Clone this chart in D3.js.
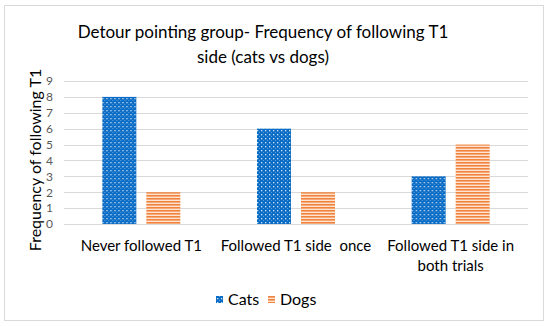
<!DOCTYPE html>
<html>
<head>
<meta charset="utf-8">
<script src="https://cdn.jsdelivr.net/npm/d3@7"></script>
<style>
  body { margin: 0; background: #fff; }
  svg { display: block; font-family: Lato, "Open Sans", sans-serif; }
</style>
</head>
<body>
<svg id="chart" width="550" height="327"></svg>
<script>
// chart data
const categories = ["Never followed T1", "Followed T1 side  once", "Followed T1 side in both trials"];
const seriesNames = ["Cats", "Dogs"];
const cats = [8, 6, 3];
const dogs = [2, 2, 5];
const yTicks = [0, 1, 2, 3, 4, 5, 6, 7, 8, 9];
const titleLines = ["Detour pointing group- Frequency of following T1", "side (cats vs dogs)"];

function drawChart(){
    const svg = d3.select("#chart");
    const W = 550, H = 327;
    const margin = { top: 81, right: 22, bottom: 103, left: 64 };
    const width = W - margin.left - margin.right,
          height = H - margin.top - margin.bottom;

    // patterns
    const defs = svg.append("defs");
    const pc = defs.append("pattern").attr("id", "patCats")
        .attr("patternUnits", "userSpaceOnUse").attr("width", 4).attr("height", 4);
    pc.append("rect").attr("width", 4).attr("height", 4).attr("fill", "#0a6cc4");
    pc.append("rect").attr("x", 1).attr("y", 1).attr("width", 1.3).attr("height", 1.3).attr("fill", "#cfe3f6");
    pc.append("rect").attr("x", 3).attr("y", 3).attr("width", 1).attr("height", 1).attr("fill", "#5aa0de");

    const pd = defs.append("pattern").attr("id", "patDogs")
        .attr("patternUnits", "userSpaceOnUse").attr("width", 4).attr("height", 3);
    pd.append("rect").attr("width", 4).attr("height", 3).attr("fill", "#fde3d0");
    pd.append("rect").attr("y", 0).attr("width", 4).attr("height", 1.6).attr("fill", "#f0843e");

    // frame
    svg.append("rect").attr("x", 4.5).attr("y", 5.5).attr("width", 539).attr("height", 315)
        .attr("fill", "#fff").attr("stroke", "#d9d9d9").attr("stroke-width", 1);

    // title
    svg.append("text").attr("x", 263).attr("text-anchor", "middle")
        .attr("fill", "#000").style("font-size", "17px")
        .selectAll("tspan").data(titleLines).enter().append("tspan")
        .attr("x", 263).attr("y", (d, i) => 38 + i * 25).text(d => d);

    const g = svg.append("g").attr("transform", `translate(${margin.left},${margin.top})`);

    const x0 = d3.scaleBand().domain(categories).range([0, width]).paddingInner(0).paddingOuter(0);
    const y = d3.scaleLinear().domain([0, 9]).range([height, 0]);

    // grid
    g.append("g").selectAll("line").data(yTicks).enter().append("line")
        .attr("x1", 0).attr("x2", width)
        .attr("y1", d => Math.round(y(d)) + 0.5).attr("y2", d => Math.round(y(d)) + 0.5)
        .attr("stroke", "#d9d9d9").attr("stroke-width", 1);

    // y axis labels
    const yAxis = g.append("g").call(d3.axisLeft(y).tickValues(yTicks).tickSize(0).tickPadding(11));
    yAxis.select(".domain").remove();
    yAxis.selectAll("text").attr("fill", "#595959").style("font-size", "12px").style("font-family", "Lato, sans-serif");

    // bars
    const barW = 34, gap = 10;
    const data = categories.map((c, i) => ({ cat: c, vals: [cats[i], dogs[i]] }));
    const groups = g.selectAll(".grp").data(data).enter().append("g")
        .attr("transform", d => `translate(${x0(d.cat) + x0.bandwidth() / 2},0)`);
    groups.selectAll("rect").data(d => d.vals).enter().append("rect")
        .attr("x", (d, i) => i == 0 ? -(barW + gap / 2) : gap / 2)
        .attr("y", d => y(d))
        .attr("width", barW)
        .attr("height", d => height - y(d))
        .attr("fill", (d, i) => i == 0 ? "url(#patCats)" : "url(#patDogs)");

    // x labels
    const labelLines = [["Never followed T1"], ["Followed T1 side  once"], ["Followed T1 side in", "both trials"]];
    groups.append("text").attr("text-anchor", "middle").attr("fill", "#000")
        .style("font-size", "15px").style("white-space", "pre")
        .selectAll("tspan").data((d, i) => labelLines[i]).enter().append("tspan")
        .attr("x", 0).attr("y", (d, i) => height + 27 + i * 20).text(d => d);

    // y title
    svg.append("text").attr("transform", "translate(41,160) rotate(-90)")
        .attr("text-anchor", "middle").attr("fill", "#000").style("font-size", "16px")
        .text("Frequency of following T1");

    // legend
    const legend = svg.append("g").attr("transform", "translate(216,293)");
    const items = legend.selectAll("g").data(seriesNames).enter().append("g")
        .attr("transform", (d, i) => `translate(${i * 52},0)`);
    items.append("rect").attr("width", 7).attr("height", 7).attr("y", 3)
        .attr("fill", (d, i) => i == 0 ? "url(#patCats)" : "url(#patDogs)");
    items.append("text").attr("x", 12).attr("y", 12).attr("fill", "#000")
        .style("font-size", "16px").text(d => d);
}

drawChart();
</script>
</body>
</html>
